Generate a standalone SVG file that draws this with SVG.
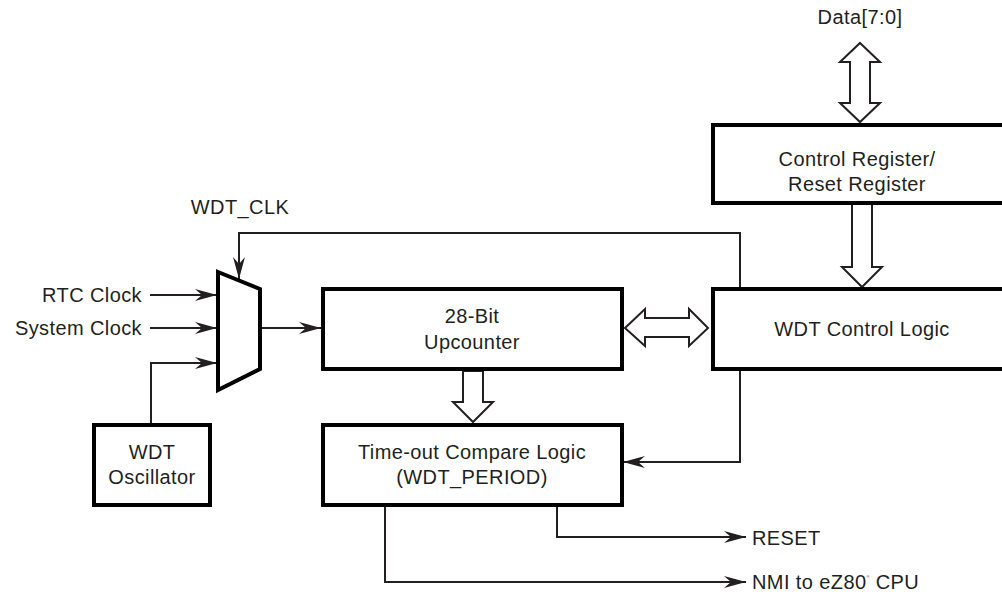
<svg xmlns="http://www.w3.org/2000/svg" width="1002" height="596" viewBox="0 0 1002 596">
<style>
.box{fill:#fff;stroke:#000;stroke-width:4}
.ln{fill:none;stroke:#231f20;stroke-width:2}
.big{fill:#fff;stroke:#231f20;stroke-width:2;stroke-linejoin:miter}
text{font-family:"Liberation Sans",Arial,sans-serif;font-size:20px;letter-spacing:0.4px;fill:#231f20}
.c{text-anchor:middle}
.r{text-anchor:end}
</style>
<defs>
<marker id="ah" viewBox="0 0 22 12" refX="22" refY="6" markerWidth="22" markerHeight="12" markerUnits="userSpaceOnUse" orient="auto">
<path d="M0,0 L22,6 L0,12 L7,6 z" fill="#231f20"/>
</marker>
</defs>
<g id="connectors">
<line class="ln" x1="150" y1="295" x2="217" y2="295" marker-end="url(#ah)"/>
<line class="ln" x1="150" y1="328" x2="217" y2="328" marker-end="url(#ah)"/>
<polyline class="ln" points="151,424 151,363 217,363" marker-end="url(#ah)"/>
<line class="ln" x1="260" y1="328" x2="321" y2="328" marker-end="url(#ah)"/>
<polyline class="ln" points="740,288 740,233 239,233 239,279" marker-end="url(#ah)"/>
<polyline class="ln" points="740,369 740,462 623,462" marker-end="url(#ah)"/>
<polyline class="ln" points="557,506 557,537 746,537" marker-end="url(#ah)"/>
<polyline class="ln" points="385,506 385,582 746,582" marker-end="url(#ah)"/>
<path class="big" d="M860,43 L880,62 L870,62 L870,103 L880,103 L860,122 L840,103 L850,103 L850,62 L840,62 Z"/>
<path class="big" d="M852,204 L872,204 L872,267 L882,267 L862,287 L842,267 L852,267 Z"/>
<path class="big" d="M625,328 L645,309 L645,318 L689,318 L689,309 L708,328 L689,346 L689,337 L645,337 L645,346 Z"/>
<path class="big" d="M463,371 L483,371 L483,402 L493,402 L473,422 L453,402 L463,402 Z"/>
</g>
<g id="data-label"><text class="c" x="860" y="24">Data[7:0]</text></g>
<g id="wdt-clk-label"><text class="c" x="240" y="214">WDT_CLK</text></g>
<g id="rtc-label"><text class="r" x="142" y="302">RTC Clock</text></g>
<g id="sys-label"><text class="r" x="142" y="335">System Clock</text></g>
<g id="ctrl-reg">
<rect class="box" x="713" y="125" width="300" height="78"/>
<text class="c" x="857" y="166">Control Register/</text>
<text class="c" x="857" y="191">Reset Register</text>
</g>
<g id="wdt-ctrl">
<rect class="box" x="713" y="289" width="300" height="80"/>
<text class="c" x="862" y="336">WDT Control Logic</text>
</g>
<g id="mux">
<polygon points="218,272 260,289 260,369 218,390" fill="#fff" stroke="#000" stroke-width="4" stroke-linejoin="miter"/>
</g>
<g id="upcounter">
<rect class="box" x="323" y="289" width="299" height="80"/>
<text class="c" x="472" y="323">28-Bit</text>
<text class="c" x="472" y="349">Upcounter</text>
</g>
<g id="compare">
<rect class="box" x="323" y="425" width="299" height="80"/>
<text class="c" x="472" y="459">Time-out Compare Logic</text>
<text class="c" x="472" y="484">(WDT_PERIOD)</text>
</g>
<g id="oscillator">
<rect class="box" x="94" y="425" width="116" height="80"/>
<text class="c" x="152" y="459">WDT</text>
<text class="c" x="152" y="484">Oscillator</text>
</g>
<g id="reset-label"><text x="752" y="545">RESET</text></g>
<g id="nmi-label"><text x="752" y="589">NMI to eZ80<tspan font-size="4" dy="-11">®</tspan><tspan dy="11"> CPU</tspan></text></g>
</svg>
